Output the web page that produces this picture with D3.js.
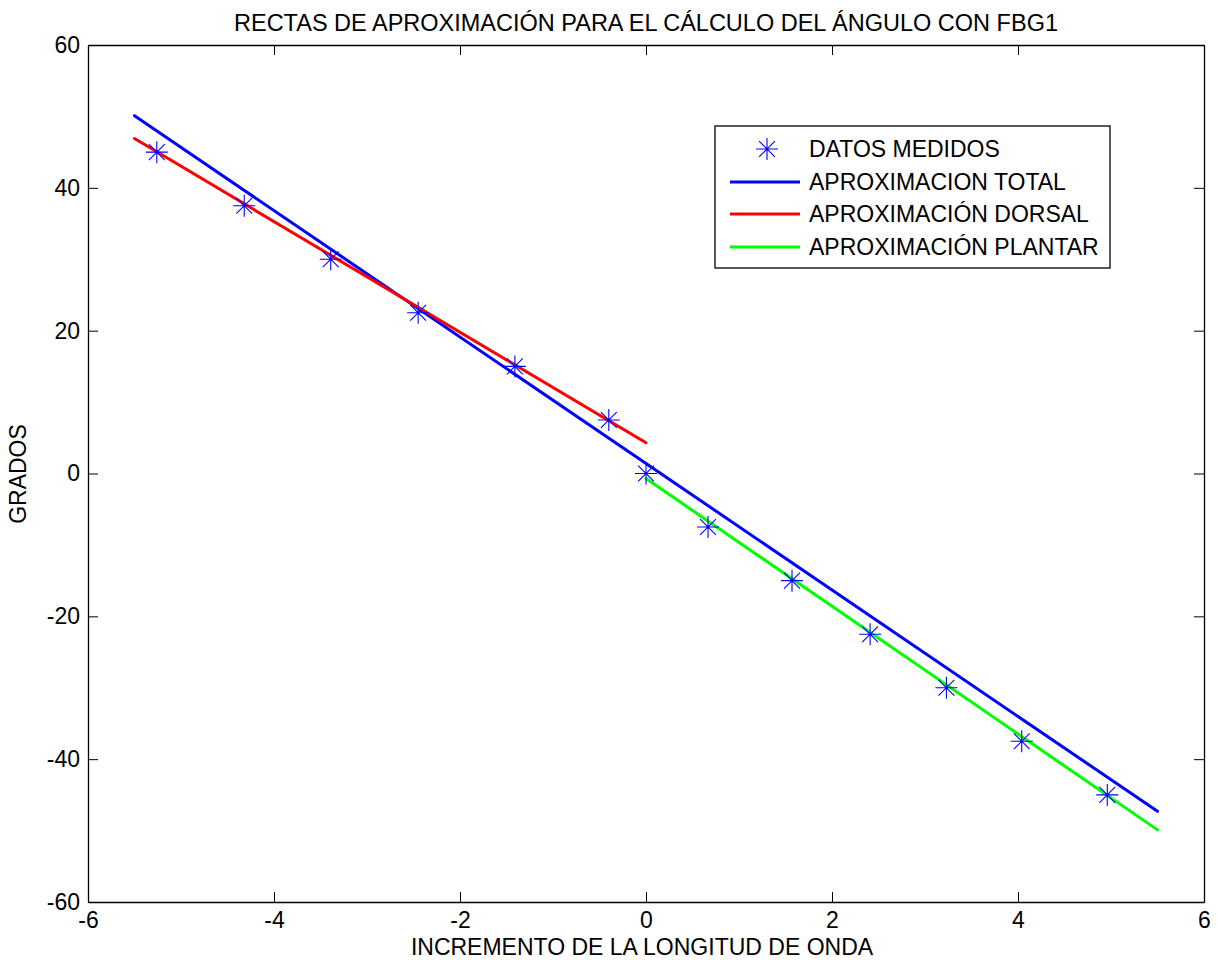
<!DOCTYPE html>
<html>
<head>
<meta charset="utf-8">
<script src="https://cdn.jsdelivr.net/npm/d3@7"></script>
<style>
  html, body { margin: 0; padding: 0; background: #fff; }
  svg { display: block; }
  text { font-family: "Liberation Sans", Arial, sans-serif; fill: #000; }
</style>
</head>
<body>
<svg id="chart" width="1219" height="966"></svg>
<script>
// Measured angle (degrees) against wavelength increment
const datosX = [-5.26, -4.32, -3.39, -2.45, -1.41, -0.40, 0.0, 0.667, 1.57, 2.41, 3.23, 4.04, 4.96];
const datosY = [45, 37.5, 30, 22.5, 15, 7.5, 0, -7.5, -15, -22.5, -30, -37.5, -45];

// Fitted lines (end points)
const totalX = [-5.5, 5.5];
const totalY = [50.1, -47.3];
const dorsalX = [-5.5, 0];
const dorsalY = [46.9, 4.3];
const plantarX = [0, 5.5];
const plantarY = [-0.7, -49.9];

const xTicks = [-6, -4, -2, 0, 2, 4, 6];
const yTicks = [-60, -40, -20, 0, 20, 40, 60];

const legendLabels = ["DATOS MEDIDOS", "APROXIMACION TOTAL", "APROXIMACIÓN DORSAL", "APROXIMACIÓN PLANTAR"];
const lineColors = ["#0000ff", "#ff0000", "#00ff00"];

const svg = d3.select("#chart");
const plotLeft = 88, plotRight = 1204, plotTop = 45, plotBottom = 902;
const fontSize = "23px";

const x = d3.scaleLinear().domain([-6, 6]).range([plotLeft, plotRight]);
const y = d3.scaleLinear().domain([-60, 60]).range([plotBottom, plotTop]);

// Plain hyphen-minus tick labels
const fmt = v => String(v);

// Axes box with inward ticks on all four sides
const tickLen = 10;
const axisBottom = d3.axisBottom(x).tickValues(xTicks).tickFormat(fmt).tickSizeInner(-tickLen).tickSizeOuter(0).tickPadding(10);
const axisTop = d3.axisTop(x).tickValues(xTicks).tickSizeInner(-tickLen).tickSizeOuter(0).tickFormat("");
const axisLeft = d3.axisLeft(y).tickValues(yTicks).tickFormat(fmt).tickSizeInner(-tickLen).tickSizeOuter(0).tickPadding(8);
const axisRight = d3.axisRight(y).tickValues(yTicks).tickSizeInner(-tickLen).tickSizeOuter(0).tickFormat("");

function styleAxis(g) {
  g.select(".domain").attr("stroke", "#000").attr("stroke-width", 1.3);
  g.selectAll(".tick line").attr("stroke", "#000").attr("stroke-width", 1);
  g.selectAll(".tick text").style("font-family", '"Liberation Sans", Arial, sans-serif').style("font-size", fontSize).attr("fill", "#000");
}

svg.append("g").attr("transform", `translate(0,${plotBottom})`).call(axisBottom).call(styleAxis);
svg.append("g").attr("transform", `translate(0,${plotTop})`).call(axisTop).call(styleAxis);
svg.append("g").attr("transform", `translate(${plotLeft},0)`).call(axisLeft).call(styleAxis);
svg.append("g").attr("transform", `translate(${plotRight},0)`).call(axisRight).call(styleAxis);

// Fitted lines
const line = d3.line().x(d => x(d[0])).y(d => y(d[1]));
const series = [
  { xs: totalX, ys: totalY, color: lineColors[0] },
  { xs: dorsalX, ys: dorsalY, color: lineColors[1] },
  { xs: plantarX, ys: plantarY, color: lineColors[2] }
];
svg.append("g").selectAll("path").data(series).join("path")
  .attr("d", s => line(d3.zip(s.xs, s.ys)))
  .attr("fill", "none")
  .attr("stroke", s => s.color)
  .attr("stroke-width", 3)
  .attr("stroke-linecap", "round");

// Asterisk marker
function asterisk(g, r) {
  const d = r * 0.72;
  g.append("path")
    .attr("d", `M${-r},0H${r}M0,${-r}V${r}M${-d},${-d}L${d},${d}M${-d},${d}L${d},${-d}`)
    .attr("fill", "none").attr("stroke", "#0000ff").attr("stroke-width", 1.1);
}
svg.append("g").selectAll("g").data(d3.zip(datosX, datosY)).join("g")
  .attr("transform", d => `translate(${x(d[0])},${y(d[1])})`)
  .each(function () { asterisk(d3.select(this), 11); });

// Legend
const lg = svg.append("g");
lg.append("rect").attr("x", 715).attr("y", 126).attr("width", 395).attr("height", 142)
  .attr("fill", "#fff").attr("stroke", "#000").attr("stroke-width", 1.3);
const rowY = [149, 182, 214, 247];
legendLabels.forEach((lab, i) => {
  if (i === 0) {
    const m = lg.append("g").attr("transform", `translate(767,${rowY[i]})`);
    asterisk(m, 11);
  } else {
    lg.append("line").attr("x1", 730).attr("x2", 800).attr("y1", rowY[i]).attr("y2", rowY[i])
      .attr("stroke", lineColors[i - 1]).attr("stroke-width", 3);
  }
  lg.append("text").attr("x", 809).attr("y", rowY[i] + 8).style("font-size", fontSize).text(lab);
});

// Title and axis labels
svg.append("text").attr("x", 646).attr("y", 31).attr("text-anchor", "middle")
  .style("font-size", "23.5px")
  .text("RECTAS DE APROXIMACIÓN PARA EL CÁLCULO DEL ÁNGULO CON FBG1");
svg.append("text").attr("x", 642).attr("y", 955).attr("text-anchor", "middle")
  .style("font-size", fontSize).text("INCREMENTO DE LA LONGITUD DE ONDA");
svg.append("text").attr("transform", "translate(26,474) rotate(-90)").attr("text-anchor", "middle")
  .style("font-size", fontSize).text("GRADOS");
</script>
</body>
</html>
